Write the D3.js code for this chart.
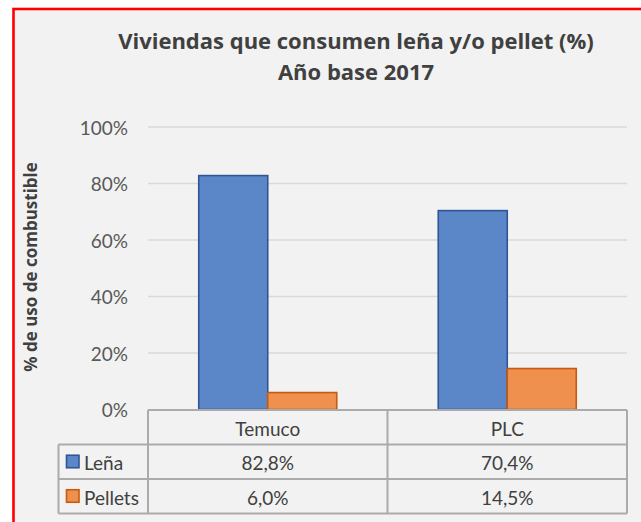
<!DOCTYPE html>
<html>
<head>
<meta charset="utf-8">
<script src="https://cdn.jsdelivr.net/npm/d3@7"></script>
<style>
  html, body { margin: 0; padding: 0; background: #ffffff; }
  svg { display: block; }
  text { font-family: Lato, "Open Sans", sans-serif; }
  .bold { font-family: "Open Sans", Lato, sans-serif; font-weight: bold; }
</style>
</head>
<body>
<svg id="chart" width="641" height="522"></svg>
<script>
// ---- data ----
const titleLines = ["Viviendas que consumen leña y/o pellet (%)", "Año base 2017"];
const yAxisLabel = "% de uso de combustible";
const categories = ["Temuco", "PLC"];
const seriesNames = ["Leña", "Pellets"];
const lenaValues = [0.828, 0.704];
const pelletsValues = [0.060, 0.145];
const lenaLabels = ["82,8%", "70,4%"];
const pelletsLabels = ["6,0%", "14,5%"];
const yTicks = [0, 0.2, 0.4, 0.6, 0.8, 1.0];
const yTickLabels = ["0%", "20%", "40%", "60%", "80%", "100%"];

const seriesValues = [lenaValues, pelletsValues];
const seriesLabels = [lenaLabels, pelletsLabels];
const fills = ["#5b87c9", "#f0904f"];
const strokes = ["#2f5597", "#c55a11"];

const svg = d3.select("#chart");

// background & red frame
svg.append("rect").attr("x", 13.5).attr("y", 9).attr("width", 700).attr("height", 600)
  .attr("fill", "#f2f2f2").attr("stroke", "#ff0000").attr("stroke-width", 2.6);

// scales
const plotLeft = 148, plotRight = 627, plotTop = 127, plotBottom = 409.5;
const x = d3.scaleBand().domain(categories).range([plotLeft, plotRight]).padding(0);
const groupGap = 50.75;
const xs = d3.scaleBand().domain(seriesNames).range([groupGap, x.bandwidth() - groupGap]).padding(0);
const y = d3.scaleLinear().domain([0, 1]).range([plotBottom, plotTop]);

// gridlines
svg.append("g").selectAll("line").data(yTicks.filter(d => d > 0)).join("line")
  .attr("x1", plotLeft).attr("x2", plotRight)
  .attr("y1", d => y(d)).attr("y2", d => y(d))
  .attr("stroke", "#d9d9d9").attr("stroke-width", 1.5);

// y tick labels
svg.append("g").selectAll("text").data(yTicks).join("text")
  .attr("x", 128).attr("y", d => y(d))
  .attr("text-anchor", "end").attr("dominant-baseline", "central")
  .attr("font-size", 19).attr("fill", "#595959")
  .text((d, i) => yTickLabels[i]);

// bars
const barData = [];
categories.forEach((c, ci) => seriesNames.forEach((s, si) => barData.push({c, s, si, v: seriesValues[si][ci]})));
svg.append("g").selectAll("rect").data(barData).join("rect")
  .attr("x", d => x(d.c) + xs(d.s))
  .attr("y", d => y(d.v))
  .attr("width", xs.bandwidth())
  .attr("height", d => y(0) - y(d.v))
  .attr("fill", d => fills[d.si])
  .attr("stroke", d => strokes[d.si]).attr("stroke-width", 1.6);

// data table
const tableTop = 410, rowH = 34.5, legendLeft = 58.5;
const rowY = i => tableTop + rowH * i;
const tg = svg.append("g").attr("stroke", "#ababab").attr("stroke-width", 2);
tg.append("line").attr("x1", plotLeft).attr("x2", plotRight).attr("y1", rowY(0)).attr("y2", rowY(0));
[1, 2, 3].forEach(i => tg.append("line").attr("x1", legendLeft).attr("x2", plotRight).attr("y1", rowY(i)).attr("y2", rowY(i)));
[plotLeft, x(categories[1]), plotRight].forEach(xv => tg.append("line").attr("x1", xv).attr("x2", xv).attr("y1", rowY(0)).attr("y2", rowY(3)));
tg.append("line").attr("x1", legendLeft).attr("x2", legendLeft).attr("y1", rowY(1)).attr("y2", rowY(3));

// header
svg.append("g").selectAll("text").data(categories).join("text")
  .attr("x", d => x(d) + x.bandwidth() / 2).attr("y", rowY(0.5) + 1)
  .attr("text-anchor", "middle").attr("dominant-baseline", "central")
  .attr("font-size", 19).attr("fill", "#404040").text(d => d);

// rows
seriesNames.forEach((s, si) => {
  const cy = rowY(1.5 + si);
  svg.append("rect").attr("x", 66.5).attr("y", cy - 6.5).attr("width", 12.5).attr("height", 12.5)
    .attr("fill", fills[si]).attr("stroke", strokes[si]).attr("stroke-width", 1.6);
  svg.append("text").attr("x", 84).attr("y", cy + 1).attr("dominant-baseline", "central")
    .attr("font-size", 19).attr("fill", "#404040").text(s);
  svg.append("g").selectAll("text").data(categories).join("text")
    .attr("x", d => x(d) + x.bandwidth() / 2).attr("y", cy + 1)
    .attr("text-anchor", "middle").attr("dominant-baseline", "central")
    .attr("font-size", 19).attr("fill", "#404040")
    .text((d, ci) => seriesLabels[si][ci]);
});

// title
svg.append("g").selectAll("text").data(titleLines).join("text")
  .attr("class", "bold")
  .attr("x", 356).attr("y", (d, i) => 48.5 + i * 31.5)
  .attr("text-anchor", "middle").attr("font-size", 22)
  .attr("fill", "#404040").text(d => d);

// y axis label
svg.append("text")
  .attr("class", "bold")
  .attr("transform", "translate(37,267) rotate(-90)")
  .attr("text-anchor", "middle").attr("font-size", 17)
  .attr("fill", "#404040").text(yAxisLabel);
</script>
</body>
</html>
